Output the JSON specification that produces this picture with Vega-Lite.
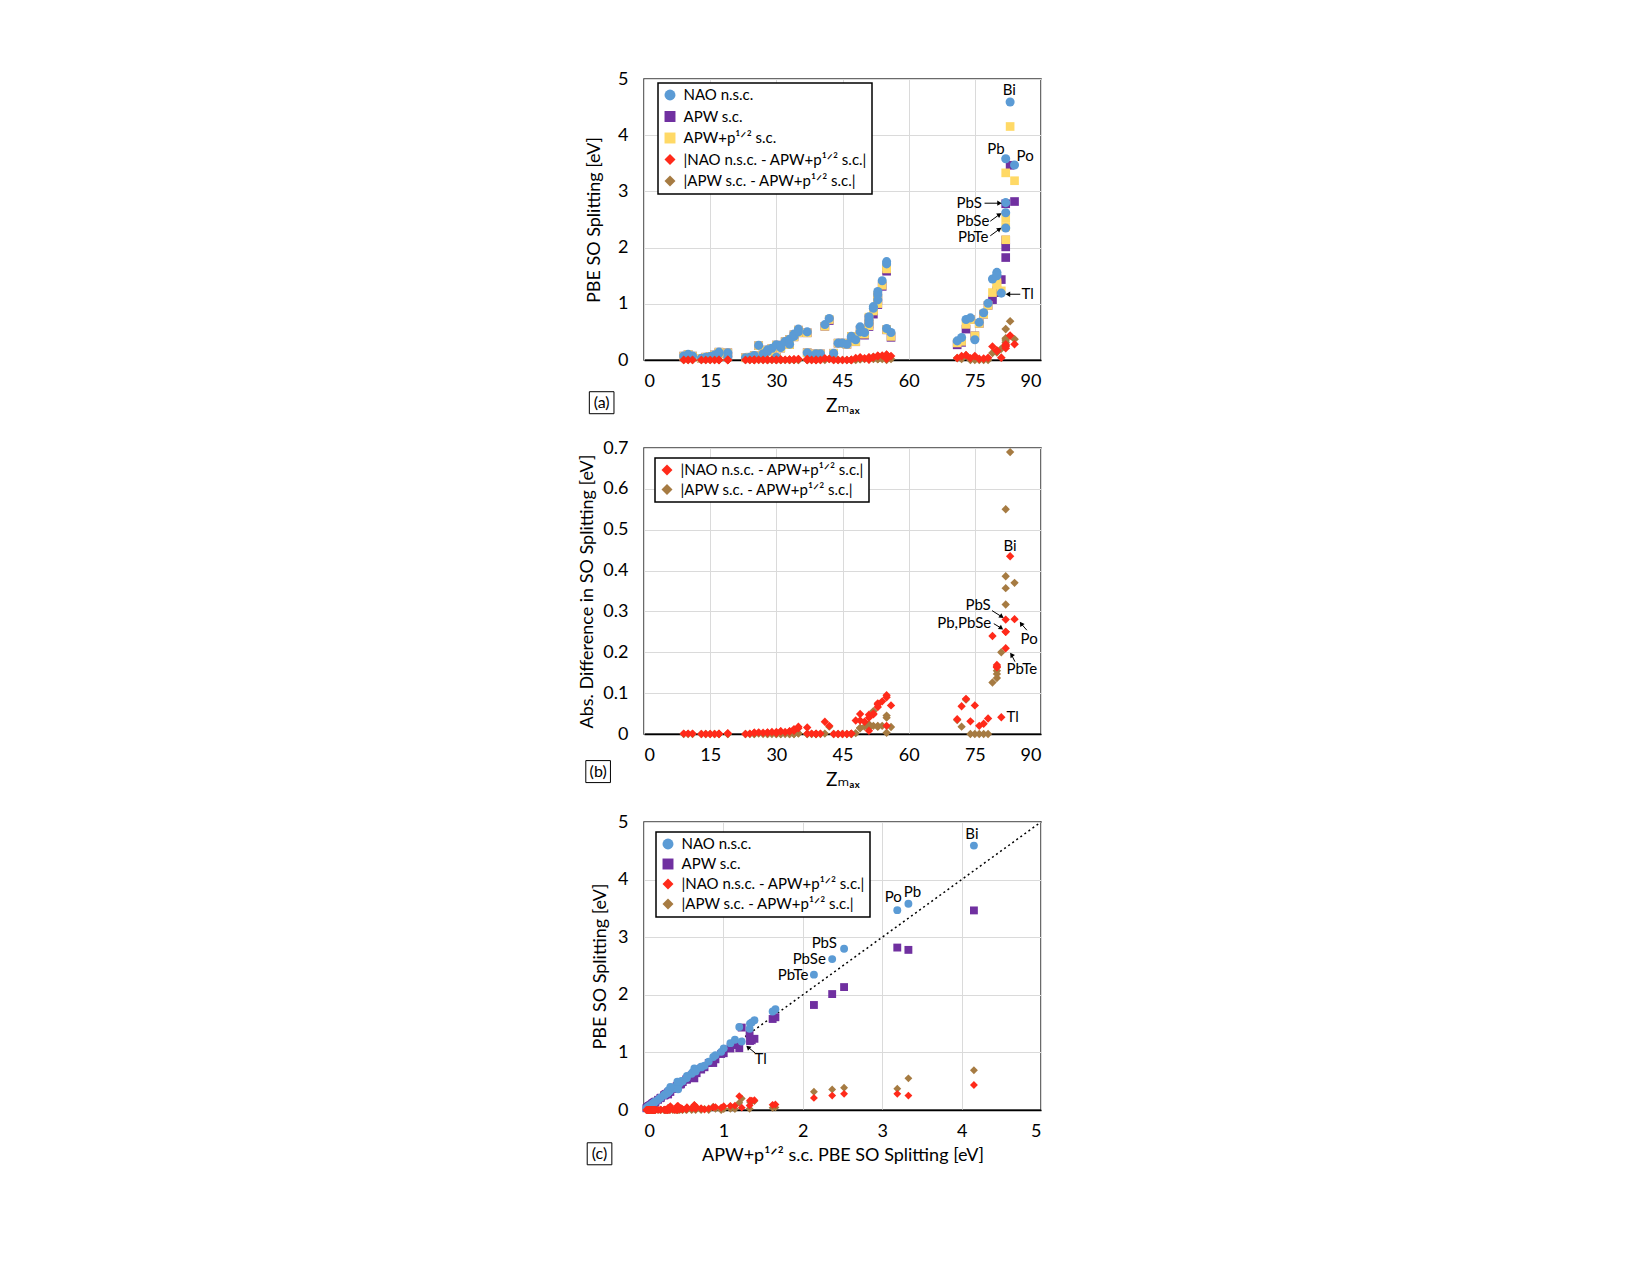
{
  "$schema": "https://vega.github.io/schema/vega-lite/v6.json",
  "background": "white",
  "padding": {"left": 578, "top": 69, "right": 10, "bottom": 10},
  "config": {
    "font": "Lato, DejaVu Sans",
    "view": {"stroke": "#3a3a3a", "strokeWidth": 1.5},
    "axis": {
      "grid": true, "gridColor": "#dadada", "gridWidth": 1,
      "ticks": false, "tickSize": 0, "domain": false,
      "labelFontSize": 18, "labelColor": "#000", "labelPadding": 16,
      "titleFontSize": 18, "titleFontWeight": "normal", "titleColor": "#000"
    },
    "axisX": {"domain": true, "domainColor": "#000", "domainWidth": 1.5, "labelPadding": 12, "titlePadding": 6},
    "legend": {
      "strokeColor": "#000", "strokeWidth": 1.5, "fillColor": "#fff",
      "padding": 4.5, "labelFontSize": 15, "labelColor": "#000", "labelOffset": 6,
      "symbolSize": 120, "symbolStrokeWidth": 0, "labelLimit": 400
    },
    "point": {"opacity": 1, "filled": true},
    "text": {"fontSize": 15, "color": "#000"}
  },
  "datasets": {
    "cmp": [
      {"Z": 9, "NAO": 0.07, "APWp": 0.069, "APW": 0.069, "dNAO": 0.001, "dAPW": 0},
      {"Z": 10, "NAO": 0.10, "APWp": 0.099, "APW": 0.099, "dNAO": 0.001, "dAPW": 0},
      {"Z": 11, "NAO": 0.07, "APWp": 0.069, "APW": 0.069, "dNAO": 0.001, "dAPW": 0},
      {"Z": 13, "NAO": 0.03, "APWp": 0.03, "APW": 0.03, "dNAO": 0.0, "dAPW": 0},
      {"Z": 14, "NAO": 0.05, "APWp": 0.05, "APW": 0.05, "dNAO": 0.0, "dAPW": 0},
      {"Z": 15, "NAO": 0.06, "APWp": 0.06, "APW": 0.06, "dNAO": 0.0, "dAPW": 0},
      {"Z": 16, "NAO": 0.09, "APWp": 0.09, "APW": 0.09, "dNAO": 0.0, "dAPW": 0},
      {"Z": 17, "NAO": 0.12, "APWp": 0.12, "APW": 0.12, "dNAO": 0.0, "dAPW": 0},
      {"Z": 17, "NAO": 0.14, "APWp": 0.139, "APW": 0.139, "dNAO": 0.001, "dAPW": 0},
      {"Z": 19, "NAO": 0.13, "APWp": 0.128, "APW": 0.128, "dNAO": 0.002, "dAPW": 0},
      {"Z": 19, "NAO": 0.06, "APWp": 0.059, "APW": 0.059, "dNAO": 0.001, "dAPW": 0},
      {"Z": 23, "NAO": 0.04, "APWp": 0.04, "APW": 0.04, "dNAO": 0.0, "dAPW": 0},
      {"Z": 24, "NAO": 0.05, "APWp": 0.049, "APW": 0.049, "dNAO": 0.001, "dAPW": 0},
      {"Z": 25, "NAO": 0.06, "APWp": 0.057, "APW": 0.057, "dNAO": 0.003, "dAPW": 0},
      {"Z": 25, "NAO": 0.08, "APWp": 0.077, "APW": 0.077, "dNAO": 0.003, "dAPW": 0},
      {"Z": 26, "NAO": 0.26, "APWp": 0.256, "APW": 0.255, "dNAO": 0.004, "dAPW": 0.001},
      {"Z": 27, "NAO": 0.11, "APWp": 0.107, "APW": 0.107, "dNAO": 0.003, "dAPW": 0},
      {"Z": 28, "NAO": 0.15, "APWp": 0.146, "APW": 0.146, "dNAO": 0.004, "dAPW": 0},
      {"Z": 28, "NAO": 0.18, "APWp": 0.177, "APW": 0.177, "dNAO": 0.003, "dAPW": 0},
      {"Z": 29, "NAO": 0.21, "APWp": 0.205, "APW": 0.205, "dNAO": 0.005, "dAPW": 0},
      {"Z": 30, "NAO": 0.27, "APWp": 0.265, "APW": 0.265, "dNAO": 0.005, "dAPW": 0},
      {"Z": 30, "NAO": 0.05, "APWp": 0.048, "APW": 0.048, "dNAO": 0.002, "dAPW": 0},
      {"Z": 31, "NAO": 0.22, "APWp": 0.213, "APW": 0.213, "dNAO": 0.007, "dAPW": 0},
      {"Z": 31, "NAO": 0.26, "APWp": 0.254, "APW": 0.254, "dNAO": 0.006, "dAPW": 0},
      {"Z": 32, "NAO": 0.33, "APWp": 0.325, "APW": 0.325, "dNAO": 0.005, "dAPW": 0},
      {"Z": 33, "NAO": 0.28, "APWp": 0.273, "APW": 0.273, "dNAO": 0.007, "dAPW": 0},
      {"Z": 33, "NAO": 0.37, "APWp": 0.364, "APW": 0.364, "dNAO": 0.006, "dAPW": 0},
      {"Z": 34, "NAO": 0.42, "APWp": 0.412, "APW": 0.412, "dNAO": 0.008, "dAPW": 0},
      {"Z": 34, "NAO": 0.46, "APWp": 0.448, "APW": 0.448, "dNAO": 0.012, "dAPW": 0},
      {"Z": 35, "NAO": 0.55, "APWp": 0.532, "APW": 0.531, "dNAO": 0.018, "dAPW": 0.001},
      {"Z": 35, "NAO": 0.50, "APWp": 0.486, "APW": 0.484, "dNAO": 0.014, "dAPW": 0.002},
      {"Z": 37, "NAO": 0.50, "APWp": 0.484, "APW": 0.484, "dNAO": 0.016, "dAPW": 0},
      {"Z": 37, "NAO": 0.13, "APWp": 0.129, "APW": 0.129, "dNAO": 0.001, "dAPW": 0},
      {"Z": 38, "NAO": 0.07, "APWp": 0.069, "APW": 0.069, "dNAO": 0.001, "dAPW": 0},
      {"Z": 39, "NAO": 0.08, "APWp": 0.079, "APW": 0.079, "dNAO": 0.001, "dAPW": 0},
      {"Z": 39, "NAO": 0.11, "APWp": 0.11, "APW": 0.11, "dNAO": 0.0, "dAPW": 0},
      {"Z": 40, "NAO": 0.11, "APWp": 0.109, "APW": 0.109, "dNAO": 0.001, "dAPW": 0},
      {"Z": 41, "NAO": 0.63, "APWp": 0.60, "APW": 0.599, "dNAO": 0.03, "dAPW": 0.001},
      {"Z": 42, "NAO": 0.74, "APWp": 0.72, "APW": 0.702, "dNAO": 0.02, "dAPW": 0.018},
      {"Z": 43, "NAO": 0.12, "APWp": 0.12, "APW": 0.12, "dNAO": 0.0, "dAPW": 0},
      {"Z": 44, "NAO": 0.30, "APWp": 0.30, "APW": 0.30, "dNAO": 0.0, "dAPW": 0},
      {"Z": 45, "NAO": 0.30, "APWp": 0.30, "APW": 0.30, "dNAO": 0.0, "dAPW": 0},
      {"Z": 46, "NAO": 0.28, "APWp": 0.28, "APW": 0.28, "dNAO": 0.0, "dAPW": 0},
      {"Z": 47, "NAO": 0.39, "APWp": 0.389, "APW": 0.389, "dNAO": 0.001, "dAPW": 0},
      {"Z": 47, "NAO": 0.42, "APWp": 0.419, "APW": 0.419, "dNAO": 0.001, "dAPW": 0},
      {"Z": 48, "NAO": 0.36, "APWp": 0.327, "APW": 0.325, "dNAO": 0.033, "dAPW": 0.002},
      {"Z": 49, "NAO": 0.59, "APWp": 0.541, "APW": 0.526, "dNAO": 0.049, "dAPW": 0.015},
      {"Z": 49, "NAO": 0.50, "APWp": 0.467, "APW": 0.453, "dNAO": 0.033, "dAPW": 0.014},
      {"Z": 50, "NAO": 0.49, "APWp": 0.46, "APW": 0.442, "dNAO": 0.03, "dAPW": 0.018},
      {"Z": 51, "NAO": 0.71, "APWp": 0.663, "APW": 0.639, "dNAO": 0.047, "dAPW": 0.024},
      {"Z": 51, "NAO": 0.77, "APWp": 0.762, "APW": 0.742, "dNAO": 0.008, "dAPW": 0.02},
      {"Z": 51, "NAO": 0.65, "APWp": 0.61, "APW": 0.595, "dNAO": 0.04, "dAPW": 0.015},
      {"Z": 52, "NAO": 0.92, "APWp": 0.872, "APW": 0.816, "dNAO": 0.048, "dAPW": 0.056},
      {"Z": 52, "NAO": 0.95, "APWp": 0.90, "APW": 0.88, "dNAO": 0.05, "dAPW": 0.02},
      {"Z": 53, "NAO": 1.07, "APWp": 1.004, "APW": 0.986, "dNAO": 0.066, "dAPW": 0.018},
      {"Z": 53, "NAO": 1.16, "APWp": 1.088, "APW": 1.068, "dNAO": 0.072, "dAPW": 0.02},
      {"Z": 53, "NAO": 1.22, "APWp": 1.145, "APW": 1.127, "dNAO": 0.075, "dAPW": 0.018},
      {"Z": 54, "NAO": 1.41, "APWp": 1.33, "APW": 1.31, "dNAO": 0.08, "dAPW": 0.02},
      {"Z": 55, "NAO": 1.71, "APWp": 1.62, "APW": 1.58, "dNAO": 0.09, "dAPW": 0.04},
      {"Z": 55, "NAO": 1.75, "APWp": 1.655, "APW": 1.61, "dNAO": 0.095, "dAPW": 0.045},
      {"Z": 55, "NAO": 0.56, "APWp": 0.54, "APW": 0.537, "dNAO": 0.02, "dAPW": 0.003},
      {"Z": 56, "NAO": 0.49, "APWp": 0.42, "APW": 0.403, "dNAO": 0.07, "dAPW": 0.017},
      {"Z": 71, "NAO": 0.34, "APWp": 0.304, "APW": 0.27, "dNAO": 0.036, "dAPW": 0.034},
      {"Z": 72, "NAO": 0.40, "APWp": 0.332, "APW": 0.314, "dNAO": 0.068, "dAPW": 0.018},
      {"Z": 73, "NAO": 0.72, "APWp": 0.634, "APW": 0.55, "dNAO": 0.086, "dAPW": 0.084},
      {"Z": 74, "NAO": 0.75, "APWp": 0.719, "APW": 0.719, "dNAO": 0.031, "dAPW": 0},
      {"Z": 75, "NAO": 0.36, "APWp": 0.43, "APW": 0.43, "dNAO": 0.07, "dAPW": 0},
      {"Z": 76, "NAO": 0.67, "APWp": 0.65, "APW": 0.65, "dNAO": 0.02, "dAPW": 0},
      {"Z": 77, "NAO": 0.84, "APWp": 0.815, "APW": 0.815, "dNAO": 0.025, "dAPW": 0},
      {"Z": 78, "NAO": 1.01, "APWp": 0.972, "APW": 0.972, "dNAO": 0.038, "dAPW": 0},
      {"Z": 79, "NAO": 1.44, "APWp": 1.20, "APW": 1.074, "dNAO": 0.24, "dAPW": 0.126},
      {"Z": 80, "NAO": 1.56, "APWp": 1.391, "APW": 1.236, "dNAO": 0.169, "dAPW": 0.155},
      {"Z": 80, "NAO": 1.52, "APWp": 1.357, "APW": 1.21, "dNAO": 0.163, "dAPW": 0.147},
      {"Z": 80, "NAO": 1.50, "APWp": 1.335, "APW": 1.198, "dNAO": 0.165, "dAPW": 0.137},
      {"Z": 81, "NAO": 1.19, "APWp": 1.231, "APW": 1.431, "dNAO": 0.041, "dAPW": 0.2},
      {"Z": 82, "NAO": 3.58, "APWp": 3.33, "APW": 2.78, "dNAO": 0.25, "dAPW": 0.55},
      {"Z": 82, "NAO": 2.80, "APWp": 2.52, "APW": 2.134, "dNAO": 0.28, "dAPW": 0.386},
      {"Z": 82, "NAO": 2.62, "APWp": 2.37, "APW": 2.013, "dNAO": 0.25, "dAPW": 0.357},
      {"Z": 82, "NAO": 2.35, "APWp": 2.14, "APW": 1.823, "dNAO": 0.21, "dAPW": 0.317},
      {"Z": 83, "NAO": 4.59, "APWp": 4.155, "APW": 3.465, "dNAO": 0.435, "dAPW": 0.69},
      {"Z": 84, "NAO": 3.47, "APWp": 3.19, "APW": 2.82, "dNAO": 0.281, "dAPW": 0.37}
    ],
    "lab_a_c": [
      {"t": "Bi", "x": 82.8, "y": 4.8},
      {"t": "Pb", "x": 79.8, "y": 3.76},
      {"t": "Po", "x": 86.4, "y": 3.63}
    ],
    "lab_a_r": [
      {"t": "PbS", "x": 76.6, "y": 2.8},
      {"t": "PbSe", "x": 78.3, "y": 2.48},
      {"t": "PbTe", "x": 78.1, "y": 2.19}
    ],
    "lab_a_l": [
      {"t": "Tl", "x": 85.6, "y": 1.17}
    ],
    "arr_a": [
      {"x": 77.2, "y": 2.79, "x2": 80.6, "y2": 2.79, "dir": "right"},
      {"x": 78.5, "y": 2.47, "x2": 80.6, "y2": 2.59, "dir": "upright"},
      {"x": 78.5, "y": 2.21, "x2": 80.6, "y2": 2.33, "dir": "upright"},
      {"x": 85.3, "y": 1.17, "x2": 82.5, "y2": 1.17, "dir": "left"}
    ],
    "lab_b_c": [
      {"t": "Bi", "x": 83.0, "y": 0.46},
      {"t": "Po", "x": 87.3, "y": 0.233}
    ],
    "lab_b_r": [
      {"t": "PbS", "x": 78.6, "y": 0.316},
      {"t": "Pb,PbSe", "x": 78.7, "y": 0.272}
    ],
    "lab_b_l": [
      {"t": "PbTe", "x": 82.2, "y": 0.158},
      {"t": "Tl", "x": 82.2, "y": 0.041}
    ],
    "arr_b": [
      {"x": 78.9, "y": 0.302, "x2": 81.1, "y2": 0.287, "dir": "downright"},
      {"x": 79.3, "y": 0.270, "x2": 81.0, "y2": 0.259, "dir": "downright"},
      {"x": 86.8, "y": 0.254, "x2": 85.5, "y2": 0.270, "dir": "upleft"},
      {"x": 84.1, "y": 0.177, "x2": 83.3, "y2": 0.194, "dir": "upleft"}
    ],
    "lab_c_c": [
      {"t": "Bi", "x": 4.13, "y": 4.8},
      {"t": "Po", "x": 3.14, "y": 3.7},
      {"t": "Pb", "x": 3.38, "y": 3.78},
      {"t": "Tl", "x": 1.47, "y": 0.88}
    ],
    "lab_c_r": [
      {"t": "PbS", "x": 2.43, "y": 2.9},
      {"t": "PbSe", "x": 2.29, "y": 2.62},
      {"t": "PbTe", "x": 2.07, "y": 2.34}
    ],
    "arr_c": [
      {"x": 1.40, "y": 0.99, "x2": 1.31, "y2": 1.09, "dir": "upleft"}
    ]
  },
  "bounds": "flush",
  "spacing": 88,
  "resolve": {
    "scale": {"x": "independent", "y": "independent", "color": "independent", "shape": "independent"},
    "legend": {"color": "independent", "shape": "independent"}
  },
  "vconcat": [
    {
      "width": 397,
      "height": 281,
      "layer": [
        {
          "data": {"name": "cmp"},
          "mark": {"type": "point", "filled": true, "opacity": 1, "size": 75},
          "encoding": {
            "x": {"field": "Z", "type": "quantitative", "title": "Zₘₐₓ", "scale": {"domain": [0, 90]}, "axis": {"values": [0, 15, 30, 45, 60, 75, 90], "titleFontSize": 19}},
            "y": {"field": "APW", "type": "quantitative", "title": "PBE SO Splitting [eV]", "scale": {"domain": [0, 5]}, "axis": {"values": [0, 1, 2, 3, 4, 5], "format": "d", "titlePadding": 14}},
            "color": {"datum": "APW s.c.", "type": "nominal",
              "scale": {"domain": ["NAO n.s.c.", "APW s.c.", "APW+p¹ᐟ² s.c.", "|NAO n.s.c. - APW+p¹ᐟ² s.c.|", "|APW s.c. - APW+p¹ᐟ² s.c.|"], "range": ["#5B9BD5", "#7030A0", "#FFD966", "#FF2A1A", "#A67B42"]},
              "legend": {"title": null, "orient": "none", "legendX": 14, "legendY": 4, "rowPadding": 5.5}},
            "shape": {"datum": "APW s.c.", "type": "nominal",
              "scale": {"domain": ["NAO n.s.c.", "APW s.c.", "APW+p¹ᐟ² s.c.", "|NAO n.s.c. - APW+p¹ᐟ² s.c.|", "|APW s.c. - APW+p¹ᐟ² s.c.|"], "range": ["circle", "square", "square", "diamond", "diamond"]},
              "legend": {"title": null, "orient": "none", "legendX": 14, "legendY": 4, "rowPadding": 5.5}}
          }
        },
        {
          "data": {"name": "cmp"},
          "mark": {"type": "point", "filled": true, "opacity": 1, "size": 75},
          "encoding": {
            "x": {"field": "Z", "type": "quantitative", "title": "Zₘₐₓ"},
            "y": {"field": "APWp", "type": "quantitative", "title": "PBE SO Splitting [eV]"},
            "color": {"datum": "APW+p¹ᐟ² s.c.", "type": "nominal"},
            "shape": {"datum": "APW+p¹ᐟ² s.c.", "type": "nominal"}
          }
        },
        {
          "data": {"name": "cmp"},
          "mark": {"type": "point", "filled": true, "opacity": 1, "size": 82},
          "encoding": {
            "x": {"field": "Z", "type": "quantitative", "title": "Zₘₐₓ"},
            "y": {"field": "NAO", "type": "quantitative", "title": "PBE SO Splitting [eV]"},
            "color": {"datum": "NAO n.s.c.", "type": "nominal"},
            "shape": {"datum": "NAO n.s.c.", "type": "nominal"}
          }
        },
        {
          "data": {"name": "cmp"},
          "mark": {"type": "point", "filled": true, "opacity": 1, "size": 75},
          "encoding": {
            "x": {"field": "Z", "type": "quantitative", "title": "Zₘₐₓ"},
            "y": {"field": "dAPW", "type": "quantitative", "title": "PBE SO Splitting [eV]"},
            "color": {"datum": "|APW s.c. - APW+p¹ᐟ² s.c.|", "type": "nominal"},
            "shape": {"datum": "|APW s.c. - APW+p¹ᐟ² s.c.|", "type": "nominal"}
          }
        },
        {
          "data": {"name": "cmp"},
          "mark": {"type": "point", "filled": true, "opacity": 1, "size": 75},
          "encoding": {
            "x": {"field": "Z", "type": "quantitative", "title": "Zₘₐₓ"},
            "y": {"field": "dNAO", "type": "quantitative", "title": "PBE SO Splitting [eV]"},
            "color": {"datum": "|NAO n.s.c. - APW+p¹ᐟ² s.c.|", "type": "nominal"},
            "shape": {"datum": "|NAO n.s.c. - APW+p¹ᐟ² s.c.|", "type": "nominal"}
          }
        },
        {
          "data": {"name": "lab_a_c"},
          "mark": {"type": "text", "align": "center", "baseline": "middle"},
          "encoding": {
            "x": {"field": "x", "type": "quantitative", "title": "Zₘₐₓ"},
            "y": {"field": "y", "type": "quantitative", "title": "PBE SO Splitting [eV]"},
            "text": {"field": "t"}
          }
        },
        {
          "data": {"name": "lab_a_r"},
          "mark": {"type": "text", "align": "right", "baseline": "middle"},
          "encoding": {
            "x": {"field": "x", "type": "quantitative", "title": "Zₘₐₓ"},
            "y": {"field": "y", "type": "quantitative", "title": "PBE SO Splitting [eV]"},
            "text": {"field": "t"}
          }
        },
        {
          "data": {"name": "lab_a_l"},
          "mark": {"type": "text", "align": "left", "baseline": "middle"},
          "encoding": {
            "x": {"field": "x", "type": "quantitative", "title": "Zₘₐₓ"},
            "y": {"field": "y", "type": "quantitative", "title": "PBE SO Splitting [eV]"},
            "text": {"field": "t"}
          }
        },
        {
          "data": {"name": "arr_a"},
          "mark": {"type": "rule", "color": "#000", "strokeWidth": 1},
          "encoding": {
            "x": {"field": "x", "type": "quantitative", "title": "Zₘₐₓ"},
            "y": {"field": "y", "type": "quantitative", "title": "PBE SO Splitting [eV]"},
            "x2": {"field": "x2"},
            "y2": {"field": "y2"}
          }
        },
        {
          "data": {"name": "arr_a"},
          "transform": [{"filter": "datum.dir == 'right'"}],
          "mark": {"type": "point", "shape": "triangle-right", "filled": true, "opacity": 1, "color": "#000", "size": 28, "angle": 0},
          "encoding": {
            "x": {"field": "x2", "type": "quantitative", "title": "Zₘₐₓ"},
            "y": {"field": "y2", "type": "quantitative", "title": "PBE SO Splitting [eV]"}
          }
        },
        {
          "data": {"name": "arr_a"},
          "transform": [{"filter": "datum.dir == 'upright'"}],
          "mark": {"type": "point", "shape": "triangle-right", "filled": true, "opacity": 1, "color": "#000", "size": 28, "angle": 326},
          "encoding": {
            "x": {"field": "x2", "type": "quantitative", "title": "Zₘₐₓ"},
            "y": {"field": "y2", "type": "quantitative", "title": "PBE SO Splitting [eV]"}
          }
        },
        {
          "data": {"name": "arr_a"},
          "transform": [{"filter": "datum.dir == 'left'"}],
          "mark": {"type": "point", "shape": "triangle-right", "filled": true, "opacity": 1, "color": "#000", "size": 28, "angle": 180},
          "encoding": {
            "x": {"field": "x2", "type": "quantitative", "title": "Zₘₐₓ"},
            "y": {"field": "y2", "type": "quantitative", "title": "PBE SO Splitting [eV]"}
          }
        },
        {
          "data": {"values": [{"t": "(a)"}]},
          "mark": {"type": "point", "shape": "M-1.12,-1L1.12,-1L1.12,1L-1.12,1Z", "filled": false, "opacity": 1, "stroke": "#000", "strokeWidth": 1, "size": 484},
          "encoding": {
            "x": {"datum": -9.6, "type": "quantitative"},
            "y": {"datum": -0.76, "type": "quantitative"}
          }
        },
        {
          "data": {"values": [{"t": "(a)"}]},
          "mark": {"type": "text", "align": "center", "baseline": "middle", "fontSize": 16},
          "encoding": {
            "x": {"datum": -9.6, "type": "quantitative"},
            "y": {"datum": -0.76, "type": "quantitative"},
            "text": {"field": "t"}
          }
        }
      ]
    },
    {
      "width": 397,
      "height": 286,
      "layer": [
        {
          "data": {"name": "cmp"},
          "mark": {"type": "point", "filled": true, "opacity": 1, "size": 70},
          "encoding": {
            "x": {"field": "Z", "type": "quantitative", "title": "Zₘₐₓ", "scale": {"domain": [0, 90]}, "axis": {"values": [0, 15, 30, 45, 60, 75, 90], "titleFontSize": 19}},
            "y": {"field": "dAPW", "type": "quantitative", "title": "Abs. Difference in SO Splitting [eV]", "scale": {"domain": [0, 0.7]}, "axis": {"values": [0, 0.1, 0.2, 0.3, 0.4, 0.5, 0.6, 0.7], "format": ".1~f", "titlePadding": 6}},
            "color": {"datum": "|APW s.c. - APW+p¹ᐟ² s.c.|", "type": "nominal",
              "scale": {"domain": ["|NAO n.s.c. - APW+p¹ᐟ² s.c.|", "|APW s.c. - APW+p¹ᐟ² s.c.|"], "range": ["#FF2A1A", "#A67B42"]},
              "legend": {"title": null, "orient": "none", "legendX": 11, "legendY": 10, "rowPadding": 3.5}},
            "shape": {"datum": "|APW s.c. - APW+p¹ᐟ² s.c.|", "type": "nominal",
              "scale": {"domain": ["|NAO n.s.c. - APW+p¹ᐟ² s.c.|", "|APW s.c. - APW+p¹ᐟ² s.c.|"], "range": ["diamond", "diamond"]},
              "legend": {"title": null, "orient": "none", "legendX": 11, "legendY": 10, "rowPadding": 3.5}}
          }
        },
        {
          "data": {"name": "cmp"},
          "mark": {"type": "point", "filled": true, "opacity": 1, "size": 70},
          "encoding": {
            "x": {"field": "Z", "type": "quantitative", "title": "Zₘₐₓ"},
            "y": {"field": "dNAO", "type": "quantitative", "title": "Abs. Difference in SO Splitting [eV]"},
            "color": {"datum": "|NAO n.s.c. - APW+p¹ᐟ² s.c.|", "type": "nominal"},
            "shape": {"datum": "|NAO n.s.c. - APW+p¹ᐟ² s.c.|", "type": "nominal"}
          }
        },
        {
          "data": {"name": "lab_b_c"},
          "mark": {"type": "text", "align": "center", "baseline": "middle"},
          "encoding": {
            "x": {"field": "x", "type": "quantitative", "title": "Zₘₐₓ"},
            "y": {"field": "y", "type": "quantitative", "title": "Abs. Difference in SO Splitting [eV]"},
            "text": {"field": "t"}
          }
        },
        {
          "data": {"name": "lab_b_r"},
          "mark": {"type": "text", "align": "right", "baseline": "middle"},
          "encoding": {
            "x": {"field": "x", "type": "quantitative", "title": "Zₘₐₓ"},
            "y": {"field": "y", "type": "quantitative", "title": "Abs. Difference in SO Splitting [eV]"},
            "text": {"field": "t"}
          }
        },
        {
          "data": {"name": "lab_b_l"},
          "mark": {"type": "text", "align": "left", "baseline": "middle"},
          "encoding": {
            "x": {"field": "x", "type": "quantitative", "title": "Zₘₐₓ"},
            "y": {"field": "y", "type": "quantitative", "title": "Abs. Difference in SO Splitting [eV]"},
            "text": {"field": "t"}
          }
        },
        {
          "data": {"name": "arr_b"},
          "mark": {"type": "rule", "color": "#000", "strokeWidth": 1},
          "encoding": {
            "x": {"field": "x", "type": "quantitative", "title": "Zₘₐₓ"},
            "y": {"field": "y", "type": "quantitative", "title": "Abs. Difference in SO Splitting [eV]"},
            "x2": {"field": "x2"},
            "y2": {"field": "y2"}
          }
        },
        {
          "data": {"name": "arr_b"},
          "transform": [{"filter": "datum.dir == 'downright'"}],
          "mark": {"type": "point", "shape": "triangle-right", "filled": true, "opacity": 1, "color": "#000", "size": 28, "angle": 35},
          "encoding": {
            "x": {"field": "x2", "type": "quantitative", "title": "Zₘₐₓ"},
            "y": {"field": "y2", "type": "quantitative", "title": "Abs. Difference in SO Splitting [eV]"}
          }
        },
        {
          "data": {"name": "arr_b"},
          "transform": [{"filter": "datum.dir == 'upleft'"}],
          "mark": {"type": "point", "shape": "triangle-right", "filled": true, "opacity": 1, "color": "#000", "size": 28, "angle": 235},
          "encoding": {
            "x": {"field": "x2", "type": "quantitative", "title": "Zₘₐₓ"},
            "y": {"field": "y2", "type": "quantitative", "title": "Abs. Difference in SO Splitting [eV]"}
          }
        },
        {
          "data": {"values": [{"t": "(b)"}]},
          "mark": {"type": "point", "shape": "M-1.12,-1L1.12,-1L1.12,1L-1.12,1Z", "filled": false, "opacity": 1, "stroke": "#000", "strokeWidth": 1, "size": 484},
          "encoding": {
            "x": {"datum": -10.4, "type": "quantitative"},
            "y": {"datum": -0.092, "type": "quantitative"}
          }
        },
        {
          "data": {"values": [{"t": "(b)"}]},
          "mark": {"type": "text", "align": "center", "baseline": "middle", "fontSize": 16},
          "encoding": {
            "x": {"datum": -10.4, "type": "quantitative"},
            "y": {"datum": -0.092, "type": "quantitative"},
            "text": {"field": "t"}
          }
        }
      ]
    },
    {
      "width": 397,
      "height": 288,
      "layer": [
        {
          "data": {"values": [{}]},
          "mark": {"type": "rule", "color": "#000", "strokeWidth": 1.5, "strokeDash": [2, 3]},
          "encoding": {
            "x": {"datum": 0, "type": "quantitative"},
            "y": {"datum": 0, "type": "quantitative"},
            "x2": {"datum": 5},
            "y2": {"datum": 5}
          }
        },
        {
          "data": {"name": "cmp"},
          "mark": {"type": "point", "filled": true, "opacity": 1, "size": 62},
          "encoding": {
            "x": {"field": "APWp", "type": "quantitative", "title": "APW+p¹ᐟ² s.c. PBE SO Splitting [eV]", "scale": {"domain": [0, 5]}, "axis": {"values": [0, 1, 2, 3, 4, 5], "format": "d"}},
            "y": {"field": "APW", "type": "quantitative", "title": "PBE SO Splitting [eV]", "scale": {"domain": [0, 5]}, "axis": {"values": [0, 1, 2, 3, 4, 5], "format": "d", "titlePadding": 8}},
            "color": {"datum": "APW s.c.", "type": "nominal",
              "scale": {"domain": ["NAO n.s.c.", "APW s.c.", "|NAO n.s.c. - APW+p¹ᐟ² s.c.|", "|APW s.c. - APW+p¹ᐟ² s.c.|"], "range": ["#5B9BD5", "#7030A0", "#FF2A1A", "#A67B42"]},
              "legend": {"title": null, "orient": "none", "legendX": 12, "legendY": 10, "rowPadding": 4}},
            "shape": {"datum": "APW s.c.", "type": "nominal",
              "scale": {"domain": ["NAO n.s.c.", "APW s.c.", "|NAO n.s.c. - APW+p¹ᐟ² s.c.|", "|APW s.c. - APW+p¹ᐟ² s.c.|"], "range": ["circle", "square", "diamond", "diamond"]},
              "legend": {"title": null, "orient": "none", "legendX": 12, "legendY": 10, "rowPadding": 4}}
          }
        },
        {
          "data": {"name": "cmp"},
          "mark": {"type": "point", "filled": true, "opacity": 1, "size": 62},
          "encoding": {
            "x": {"field": "APWp", "type": "quantitative", "title": "APW+p¹ᐟ² s.c. PBE SO Splitting [eV]"},
            "y": {"field": "NAO", "type": "quantitative", "title": "PBE SO Splitting [eV]"},
            "color": {"datum": "NAO n.s.c.", "type": "nominal"},
            "shape": {"datum": "NAO n.s.c.", "type": "nominal"}
          }
        },
        {
          "data": {"name": "cmp"},
          "mark": {"type": "point", "filled": true, "opacity": 1, "size": 62},
          "encoding": {
            "x": {"field": "APWp", "type": "quantitative", "title": "APW+p¹ᐟ² s.c. PBE SO Splitting [eV]"},
            "y": {"field": "dAPW", "type": "quantitative", "title": "PBE SO Splitting [eV]"},
            "color": {"datum": "|APW s.c. - APW+p¹ᐟ² s.c.|", "type": "nominal"},
            "shape": {"datum": "|APW s.c. - APW+p¹ᐟ² s.c.|", "type": "nominal"}
          }
        },
        {
          "data": {"name": "cmp"},
          "mark": {"type": "point", "filled": true, "opacity": 1, "size": 62},
          "encoding": {
            "x": {"field": "APWp", "type": "quantitative", "title": "APW+p¹ᐟ² s.c. PBE SO Splitting [eV]"},
            "y": {"field": "dNAO", "type": "quantitative", "title": "PBE SO Splitting [eV]"},
            "color": {"datum": "|NAO n.s.c. - APW+p¹ᐟ² s.c.|", "type": "nominal"},
            "shape": {"datum": "|NAO n.s.c. - APW+p¹ᐟ² s.c.|", "type": "nominal"}
          }
        },
        {
          "data": {"name": "lab_c_c"},
          "mark": {"type": "text", "align": "center", "baseline": "middle"},
          "encoding": {
            "x": {"field": "x", "type": "quantitative", "title": "APW+p¹ᐟ² s.c. PBE SO Splitting [eV]"},
            "y": {"field": "y", "type": "quantitative", "title": "PBE SO Splitting [eV]"},
            "text": {"field": "t"}
          }
        },
        {
          "data": {"name": "lab_c_r"},
          "mark": {"type": "text", "align": "right", "baseline": "middle"},
          "encoding": {
            "x": {"field": "x", "type": "quantitative", "title": "APW+p¹ᐟ² s.c. PBE SO Splitting [eV]"},
            "y": {"field": "y", "type": "quantitative", "title": "PBE SO Splitting [eV]"},
            "text": {"field": "t"}
          }
        },
        {
          "data": {"name": "arr_c"},
          "mark": {"type": "rule", "color": "#000", "strokeWidth": 1},
          "encoding": {
            "x": {"field": "x", "type": "quantitative", "title": "APW+p¹ᐟ² s.c. PBE SO Splitting [eV]"},
            "y": {"field": "y", "type": "quantitative", "title": "PBE SO Splitting [eV]"},
            "x2": {"field": "x2"},
            "y2": {"field": "y2"}
          }
        },
        {
          "data": {"name": "arr_c"},
          "mark": {"type": "point", "shape": "triangle-right", "filled": true, "opacity": 1, "color": "#000", "size": 28, "angle": 222},
          "encoding": {
            "x": {"field": "x2", "type": "quantitative", "title": "APW+p¹ᐟ² s.c. PBE SO Splitting [eV]"},
            "y": {"field": "y2", "type": "quantitative", "title": "PBE SO Splitting [eV]"}
          }
        },
        {
          "data": {"values": [{"t": "(c)"}]},
          "mark": {"type": "point", "shape": "M-1.12,-1L1.12,-1L1.12,1L-1.12,1Z", "filled": false, "opacity": 1, "stroke": "#000", "strokeWidth": 1, "size": 484},
          "encoding": {
            "x": {"datum": -0.56, "type": "quantitative"},
            "y": {"datum": -0.76, "type": "quantitative"}
          }
        },
        {
          "data": {"values": [{"t": "(c)"}]},
          "mark": {"type": "text", "align": "center", "baseline": "middle", "fontSize": 16},
          "encoding": {
            "x": {"datum": -0.56, "type": "quantitative"},
            "y": {"datum": -0.76, "type": "quantitative"},
            "text": {"field": "t"}
          }
        }
      ]
    }
  ]
}
